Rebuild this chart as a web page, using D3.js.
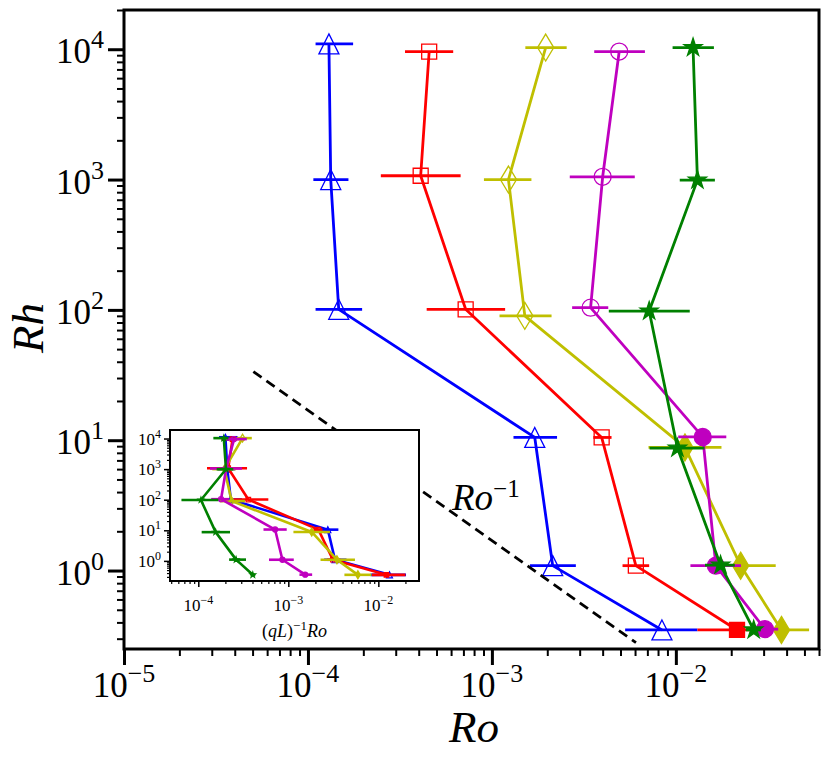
<!DOCTYPE html>
<html>
<head>
<meta charset="utf-8">
<script src="https://cdn.jsdelivr.net/npm/d3@7"></script>
<style>
  body { margin: 0; background: #fff; }
  text { font-family: "Liberation Serif", "DejaVu Serif", serif; fill: #000; }
</style>
</head>
<body>
<svg id="chart" width="830" height="761"></svg>
<script>
// ---- data ----
// Rh levels for each run
var blueRh = [1.1e4, 1.0e3, 101, 10.5, 1.09, 0.35];
var redRh = [9.6e3, 1.07e3, 101, 10.5, 1.09, 0.35];
var yellowRh = [1.03e4, 1.0e3, 90, 8.8, 1.09, 0.35];
var magentaRh = [9.6e3, 1.05e3, 104, 10.6, 1.09, 0.355];
var greenRh = [1.03e4, 990, 98, 8.7, 1.1, 0.35];

// main panel: Ro with error bar ends
var blueRo = [1.30e-4, 1.33e-4, 1.47e-4, 1.71e-3, 2.14e-3, 8.4e-3];
var blueLo = [1.10e-4, 1.07e-4, 1.10e-4, 1.31e-3, 1.61e-3, 5.3e-3];
var blueHi = [1.76e-4, 1.66e-4, 1.97e-4, 2.26e-3, 2.86e-3, 1.31e-2];

var redRo = [4.56e-4, 4.10e-4, 7.2e-4, 3.95e-3, 6.06e-3, 2.15e-2];
var redLo = [3.37e-4, 2.49e-4, 4.42e-4, 3.56e-3, 5.13e-3, 1.31e-2];
var redHi = [6.16e-4, 6.76e-4, 1.18e-3, 4.47e-3, 7.16e-3, 3.0e-2];

var yellowRo = [1.96e-3, 1.23e-3, 1.51e-3, 1.12e-2, 2.25e-2, 3.75e-2];
var yellowLo = [1.52e-3, 9.05e-4, 1.10e-3, 7.1e-3, 1.44e-2, 2.65e-2];
var yellowHi = [2.55e-3, 1.64e-3, 2.11e-3, 1.77e-2, 3.49e-2, 5.3e-2];

var magentaRo = [4.92e-3, 4.0e-3, 3.44e-3, 1.40e-2, 1.65e-2, 3.05e-2];
var magentaLo = [3.60e-3, 2.65e-3, 2.73e-3, 1.03e-2, 1.20e-2, 2.6e-2];
var magentaHi = [6.79e-3, 5.98e-3, 4.29e-3, 1.88e-2, 2.26e-2, 3.6e-2];

var greenRo = [1.24e-2, 1.31e-2, 7.16e-3, 1.02e-2, 1.75e-2, 2.65e-2];
var greenLo = [9.6e-3, 1.05e-2, 4.32e-3, 7.2e-3, 1.44e-2, 2.4e-2];
var greenHi = [1.61e-2, 1.63e-2, 1.19e-2, 1.43e-2, 2.09e-2, 2.9e-2];

// inset: (qL)^-1 Ro with error bar ends
var blueInRo = [2.0e-4, 2.1e-4, 2.3e-4, 2.75e-3, 3.3e-3, 1.33e-2];
var blueInLo = [1.7e-4, 1.66e-4, 1.7e-4, 2.3e-3, 2.5e-3, 8.2e-3];
var blueInHi = [2.73e-4, 2.57e-4, 3.05e-4, 3.6e-3, 4.43e-3, 2.03e-2];

var redInRo = [2.4e-4, 2.15e-4, 3.6e-4, 2.16e-3, 3.13e-3, 1.23e-2];
var redInLo = [1.8e-4, 1.25e-4, 2.45e-4, 1.9e-3, 2.7e-3, 8.5e-3];
var redInHi = [3.3e-4, 3.48e-4, 6.0e-4, 2.4e-3, 3.8e-3, 2.0e-2];

var yellowInRo = [3.1e-4, 1.95e-4, 2.35e-4, 1.82e-3, 3.47e-3, 5.93e-3];
var yellowInLo = [2.67e-4, 1.43e-4, 1.74e-4, 1.14e-3, 2.28e-3, 4.2e-3];
var yellowInHi = [3.93e-4, 2.6e-4, 3.3e-4, 2.9e-3, 5.5e-3, 8.4e-3];

var magentaInRo = [2.5e-4, 2.04e-4, 1.79e-4, 7.13e-4, 8.6e-4, 1.54e-3];
var magentaInLo = [1.84e-4, 1.35e-4, 1.39e-4, 5.3e-4, 6.1e-4, 1.33e-3];
var magentaInHi = [3.46e-4, 3.05e-4, 2.19e-4, 9.6e-4, 1.15e-3, 1.84e-3];

var greenInRo = [1.92e-4, 2.03e-4, 1.07e-4, 1.56e-4, 2.63e-4, 4.03e-4];
var greenInLo = [1.47e-4, 1.60e-4, 6.5e-5, 1.09e-4, 2.2e-4, 3.8e-4];
var greenInHi = [2.16e-4, 2.45e-4, 1.67e-4, 2.25e-4, 3.39e-4, 4.3e-4];

// Ro^-1 reference line end points
var slopeRo = [5.05e-5, 6.07e-3];
var slopeRh = [33.6, 0.28];

// tick exponents
var xMainExp = [-5, -4, -3, -2];
var yMainExp = [0, 1, 2, 3, 4];
var xInsetExp = [-4, -3, -2];
var yInsetExp = [0, 1, 2, 3, 4];

// ---- series setup (style only) ----
var series = [
    { color: "#0000ff", shape: "tri", size: 20, open: 6, rh: blueRh, ro: blueRo, lo: blueLo, hi: blueHi, iro: blueInRo, ilo: blueInLo, ihi: blueInHi },
    { color: "#ff0000", shape: "sq", size: 15, open: 5, rh: redRh, ro: redRo, lo: redLo, hi: redHi, iro: redInRo, ilo: redInLo, ihi: redInHi },
    { color: "#bfbf00", shape: "dia", size: 27, open: 3, rh: yellowRh, ro: yellowRo, lo: yellowLo, hi: yellowHi, iro: yellowInRo, ilo: yellowInLo, ihi: yellowInHi },
    { color: "#bf00bf", shape: "circ", size: 17, open: 3, rh: magentaRh, ro: magentaRo, lo: magentaLo, hi: magentaHi, iro: magentaInRo, ilo: magentaInLo, ihi: magentaInHi },
    { color: "#008000", shape: "star", size: 19, open: 0, rh: greenRh, ro: greenRo, lo: greenLo, hi: greenHi, iro: greenInRo, ilo: greenInLo, ihi: greenInHi }
];

var svg = d3.select("#chart");
svg.append("rect").attr("width", 830).attr("height", 761).attr("fill", "#fff");

// main axes box
var box = { left: 124, top: 10, right: 819, bottom: 649 };
var x = d3.scaleLog().domain([1e-5, 6e-2]).range([box.left, box.right]);
var y = d3.scaleLog().domain([0.25, 2e4]).range([box.bottom, box.top]);

// inset box
var ib = { left: 170, top: 430, right: 419, bottom: 581 };
var xi = d3.scaleLog().domain([4.85e-5, 2.83e-2]).range([ib.left, ib.right]);
var yi = d3.scaleLog().domain([0.22, 1.9e4]).range([ib.bottom, ib.top]);

function isMajor(v) {
    var l = Math.log10(v);
    return Math.abs(l - Math.round(l)) < 1e-6;
}

function markerPath(shape, s) {
    var h = s / 2;
    if (shape == "tri") return "M0," + (-h) + "L" + h + "," + h + "L" + (-h) + "," + h + "Z";
    if (shape == "sq") return "M" + (-h) + "," + (-h) + "h" + s + "v" + s + "h" + (-s) + "Z";
    if (shape == "dia") return "M0," + (-h) + "L" + (s * 0.3) + ",0L0," + h + "L" + (-s * 0.3) + ",0Z";
    if (shape == "circ") return d3.symbol(d3.symbolCircle, Math.PI * h * h)();
    // five-point star
    var pts = [];
    for (var k = 0; k < 10; k++) {
        var r = k % 2 == 0 ? h : h * 0.382;
        var a = -Math.PI / 2 + k * Math.PI / 5;
        pts.push([r * Math.cos(a), r * Math.sin(a)]);
    }
    return "M" + pts.map(function (p) { return p[0].toFixed(2) + "," + p[1].toFixed(2); }).join("L") + "Z";
}

// draw every run on a pair of scales
function drawSeries(g, sx, sy, key, lw, scale, thin) {
    series.forEach(function (s) {
        var ro = s[key + "ro"], lo = s[key + "lo"], hi = s[key + "hi"];
        var pts = s.rh.map(function (r, i) { return { rh: r, ro: ro[i], lo: lo[i], hi: hi[i], open: i < s.open }; });
        var sg = g.append("g");
        // horizontal error bars
        sg.selectAll("line.err").data(pts).enter().append("line")
            .attr("class", "err")
            .attr("x1", function (d) { return sx(d.lo); })
            .attr("x2", function (d) { return sx(d.hi); })
            .attr("y1", function (d) { return sy(d.rh); })
            .attr("y2", function (d) { return sy(d.rh); })
            .attr("stroke", s.color)
            .attr("stroke-width", lw);
        // connecting line
        sg.append("path")
            .datum(pts)
            .attr("fill", "none")
            .attr("stroke", s.color)
            .attr("stroke-width", lw)
            .attr("stroke-linejoin", "round")
            .attr("d", d3.line().x(function (d) { return sx(d.ro); }).y(function (d) { return sy(d.rh); }));
        // markers
        sg.selectAll("path.mk").data(pts).enter().append("path")
            .attr("class", "mk")
            .attr("transform", function (d) { return "translate(" + sx(d.ro) + "," + sy(d.rh) + ")"; })
            .attr("d", markerPath(s.shape, s.size * scale))
            .attr("fill", function (d) { return d.open ? "none" : s.color; })
            .attr("stroke", s.color)
            .attr("stroke-width", thin);
    });
}

// power-of-ten label
function powText(g, px, py, e, big, small, anchor, supDy) {
    var t = g.append("text")
        .attr("x", px).attr("y", py)
        .attr("text-anchor", anchor)
        .style("font-size", big + "px");
    t.append("tspan").text("10");
    t.append("tspan")
        .attr("dy", supDy)
        .style("font-size", small + "px")
        .text(e < 0 ? "\u2212" + (-e) : String(e));
}

// ---- main panel ----
var main = svg.append("g");

drawSeries(main, x, y, "", 2.8, 1, 1.3);

// Ro^-1 guide
main.append("path")
    .datum(slopeRo.map(function (r, i) { return [r, slopeRh[i]]; }))
    .attr("fill", "none")
    .attr("stroke", "#000")
    .attr("stroke-width", 2.8)
    .attr("stroke-dasharray", "10,6")
    .attr("d", d3.line().x(function (d) { return x(d[0]); }).y(function (d) { return y(d[1]); }));

var lab = main.append("text").attr("x", 452).attr("y", 510).style("font-size", "37px");
lab.append("tspan").style("font-style", "italic").text("Ro");
lab.append("tspan").attr("dy", -13).style("font-size", "25px").text("\u22121");

// main ticks
var xMinor = x.ticks().filter(function (v) { return !isMajor(v); });
var yMinor = y.ticks().filter(function (v) { return !isMajor(v); });
var xMajor = xMainExp.map(function (e) { return Math.pow(10, e); });
var yMajor = yMainExp.map(function (e) { return Math.pow(10, e); });

function tickAxis(g, axis, w) {
    g.call(axis);
    g.select(".domain").remove();
    g.selectAll(".tick line").attr("stroke", "#000").attr("stroke-width", w);
}

tickAxis(svg.append("g").attr("transform", "translate(0," + box.bottom + ")"),
    d3.axisBottom(x).tickValues(xMinor).tickSize(7).tickFormat(""), 2);
tickAxis(svg.append("g").attr("transform", "translate(0," + box.bottom + ")"),
    d3.axisBottom(x).tickValues(xMajor).tickSize(16).tickFormat(""), 3);
tickAxis(svg.append("g").attr("transform", "translate(" + box.left + ",0)"),
    d3.axisLeft(y).tickValues(yMinor).tickSize(7).tickFormat(""), 2);
tickAxis(svg.append("g").attr("transform", "translate(" + box.left + ",0)"),
    d3.axisLeft(y).tickValues(yMajor).tickSize(16).tickFormat(""), 3);

svg.append("rect")
    .attr("x", box.left).attr("y", box.top)
    .attr("width", box.right - box.left).attr("height", box.bottom - box.top)
    .attr("fill", "none").attr("stroke", "#000").attr("stroke-width", 3);

xMainExp.forEach(function (e) { powText(svg, x(Math.pow(10, e)), 697, e, 35, 26, "middle", -15); });
yMainExp.forEach(function (e) { powText(svg, 104, y(Math.pow(10, e)) + 14, e, 35, 26, "end", -15); });

svg.append("text")
    .attr("x", 474).attr("y", 742)
    .attr("text-anchor", "middle")
    .style("font-size", "45px").style("font-style", "italic")
    .text("Ro");
svg.append("text")
    .attr("transform", "translate(43,328) rotate(-90)")
    .attr("text-anchor", "middle")
    .style("font-size", "45px").style("font-style", "italic")
    .text("Rh");

// ---- inset ----
var inset = svg.append("g");
inset.append("rect")
    .attr("x", ib.left).attr("y", ib.top)
    .attr("width", ib.right - ib.left).attr("height", ib.bottom - ib.top)
    .attr("fill", "#fff");

var clip = svg.append("clipPath").attr("id", "insetClip");
clip.append("rect").attr("x", ib.left).attr("y", ib.top)
    .attr("width", ib.right - ib.left).attr("height", ib.bottom - ib.top);
drawSeries(inset.append("g").attr("clip-path", "url(#insetClip)"), xi, yi, "i", 2.6, 0.3, 1.2);

var xiMinor = xi.ticks().filter(function (v) { return !isMajor(v); });
var yiMinor = yi.ticks().filter(function (v) { return !isMajor(v); });
var xiMajor = xInsetExp.map(function (e) { return Math.pow(10, e); });
var yiMajor = yInsetExp.map(function (e) { return Math.pow(10, e); });

tickAxis(inset.append("g").attr("transform", "translate(0," + ib.bottom + ")"),
    d3.axisBottom(xi).tickValues(xiMinor).tickSize(3).tickFormat(""), 1.2);
tickAxis(inset.append("g").attr("transform", "translate(0," + ib.bottom + ")"),
    d3.axisBottom(xi).tickValues(xiMajor).tickSize(6).tickFormat(""), 1.5);
tickAxis(inset.append("g").attr("transform", "translate(" + ib.left + ",0)"),
    d3.axisLeft(yi).tickValues(yiMinor).tickSize(3).tickFormat(""), 1.2);
tickAxis(inset.append("g").attr("transform", "translate(" + ib.left + ",0)"),
    d3.axisLeft(yi).tickValues(yiMajor).tickSize(6).tickFormat(""), 1.5);

inset.append("rect")
    .attr("x", ib.left).attr("y", ib.top)
    .attr("width", ib.right - ib.left).attr("height", ib.bottom - ib.top)
    .attr("fill", "none").attr("stroke", "#000").attr("stroke-width", 2);

xInsetExp.forEach(function (e) { powText(inset, xi(Math.pow(10, e)), 611, e, 17, 12, "middle", -7); });
yInsetExp.forEach(function (e) { powText(inset, 161, yi(Math.pow(10, e)) + 6, e, 17, 12, "end", -7); });

var il = inset.append("text")
    .attr("x", (ib.left + ib.right) / 2).attr("y", 637)
    .attr("text-anchor", "middle")
    .style("font-size", "18px");
il.append("tspan").text("(");
il.append("tspan").style("font-style", "italic").text("qL");
il.append("tspan").text(")");
il.append("tspan").attr("dy", -7).style("font-size", "13px").text("\u22121");
il.append("tspan").attr("dy", 7).style("font-style", "italic").text("Ro");
</script>
</body>
</html>
